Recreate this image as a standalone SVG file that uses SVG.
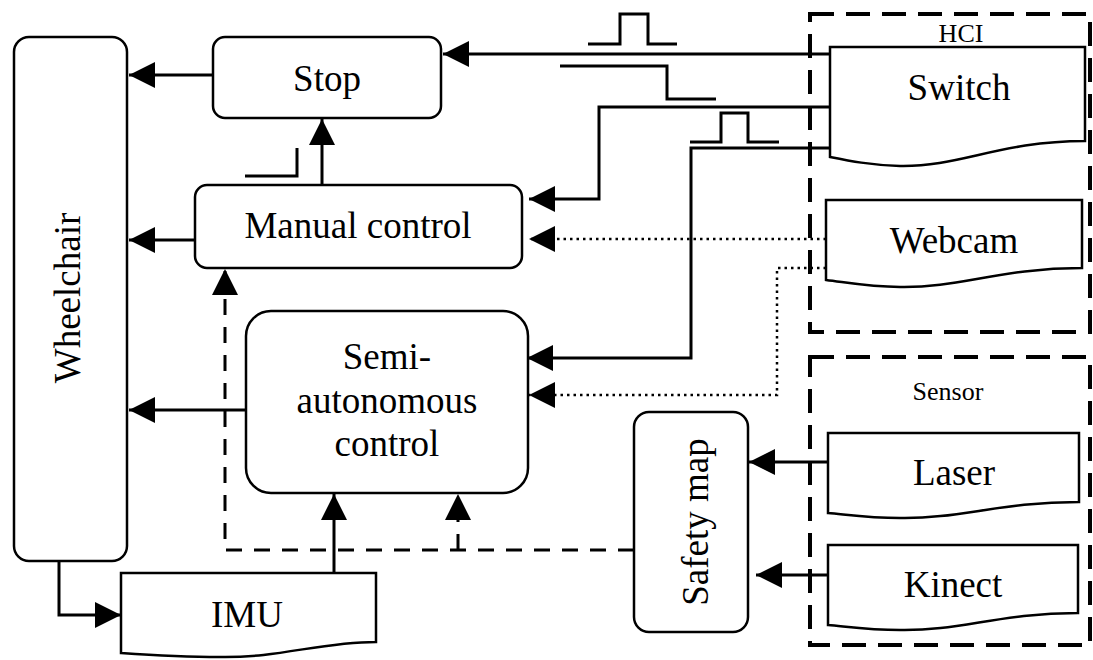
<svg xmlns="http://www.w3.org/2000/svg" width="1093" height="660" viewBox="0 0 1093 660">
<defs>
<style>
.box{fill:#fff;stroke:#000;stroke-width:2.5}
.grp{fill:none;stroke:#000;stroke-width:4;stroke-dasharray:24 12}
.t{font-family:'Liberation Serif','Times New Roman',Times,serif;font-size:37px;fill:#000;text-anchor:middle}
.s{font-family:'Liberation Serif','Times New Roman',Times,serif;font-size:26px;fill:#000;text-anchor:middle}
.c{fill:none;stroke:#000;stroke-width:3}
.d{fill:none;stroke:#000;stroke-width:3;stroke-dasharray:16 12}
.o{fill:none;stroke:#000;stroke-width:2.5;stroke-dasharray:2.5 4}
.sig{fill:none;stroke:#000;stroke-width:3}
</style>
<marker id="ah" markerUnits="userSpaceOnUse" markerWidth="26" markerHeight="26" refX="26" refY="13" orient="auto">
<path d="M0,0 L26,13 L0,26 Z" fill="#000"/>
</marker>
</defs>
<rect width="1093" height="660" fill="#fff"/>

<g id="hci-group">
<rect class="grp" x="810" y="14" width="280" height="318"/>
<text class="s" x="961" y="42">HCI</text>
</g>
<g id="sensor-group">
<rect class="grp" x="810" y="357" width="280" height="288"/>
<text class="s" x="948" y="400">Sensor</text>
</g>

<g id="connectors">
<path class="c" d="M213,75 H129" marker-end="url(#ah)"/>
<path class="c" d="M195,240 H129" marker-end="url(#ah)"/>
<path class="c" d="M246,410 H129" marker-end="url(#ah)"/>
<path class="c" d="M322,185 V119" marker-end="url(#ah)"/>
<path class="c" d="M334,573 V494" marker-end="url(#ah)"/>
<path class="c" d="M59,561 V615 H121" marker-end="url(#ah)"/>
<path class="c" d="M830,54 H443" marker-end="url(#ah)"/>
<path class="c" d="M830,107 H599 V199 H529" marker-end="url(#ah)"/>
<path class="c" d="M830,148 H691 V358 H527" marker-end="url(#ah)"/>
<path class="o" d="M826,239 H529" marker-end="url(#ah)"/>
<path class="o" d="M826,268 H777 V395 H529" marker-end="url(#ah)"/>
<path class="c" d="M828,462 H749" marker-end="url(#ah)"/>
<path class="c" d="M831,575 H756" marker-end="url(#ah)"/>
<path class="d" d="M634,550 H225 V269" marker-end="url(#ah)"/>
<path class="d" d="M458,550 V494" marker-end="url(#ah)"/>
<path class="sig" d="M588,44 H620 V14 H648 V44 H677"/>
<path class="sig" d="M560,66 H667 V99 H716"/>
<path class="sig" d="M690,142 H721 V113 H748 V142 H779"/>
<path class="sig" d="M245,176 H297 V148"/>
</g>

<g id="wheelchair">
<rect class="box" x="14" y="37" width="113" height="524" rx="15"/>
<text class="t" transform="translate(80,298) rotate(-90)">Wheelchair</text>
</g>
<g id="stop">
<rect class="box" x="213" y="37" width="228" height="81" rx="12"/>
<text class="t" x="327" y="91">Stop</text>
</g>
<g id="manual-control">
<rect class="box" x="195" y="185" width="327" height="83" rx="12"/>
<text class="t" x="358" y="238">Manual control</text>
</g>
<g id="semi-autonomous-control">
<rect class="box" x="246" y="311" width="282" height="182" rx="25"/>
<text class="t" x="387" y="369">Semi-</text>
<text class="t" x="387" y="413">autonomous</text>
<text class="t" x="387" y="456">control</text>
</g>
<g id="imu">
<path class="box" d="M121,573 H376 V642 C320,642 280,658 220,657 C180,657 150,655 121,653 Z"/>
<text class="t" x="247" y="627">IMU</text>
</g>
<g id="safety-map">
<rect class="box" x="634" y="412" width="114" height="220" rx="15"/>
<text class="t" transform="translate(708,522) rotate(-90)">Safety map</text>
</g>
<g id="switch">
<path class="box" d="M830,47 H1085 V141 C1000,141 960,167 900,166 C870,165 850,161 830,157 Z"/>
<text class="t" x="959" y="100">Switch</text>
</g>
<g id="webcam">
<path class="box" d="M826,200 H1082 V268 C1000,268 960,288 900,287 C870,287 850,283 826,280 Z"/>
<text class="t" x="954" y="253">Webcam</text>
</g>
<g id="laser">
<path class="box" d="M828,433 H1079 V502 C1000,502 960,519 900,518 C870,518 850,515 828,513 Z"/>
<text class="t" x="954" y="485">Laser</text>
</g>
<g id="kinect">
<path class="box" d="M828,545 H1078 V613 C1000,613 960,631 900,630 C870,630 850,627 828,625 Z"/>
<text class="t" x="953" y="597">Kinect</text>
</g>
</svg>
